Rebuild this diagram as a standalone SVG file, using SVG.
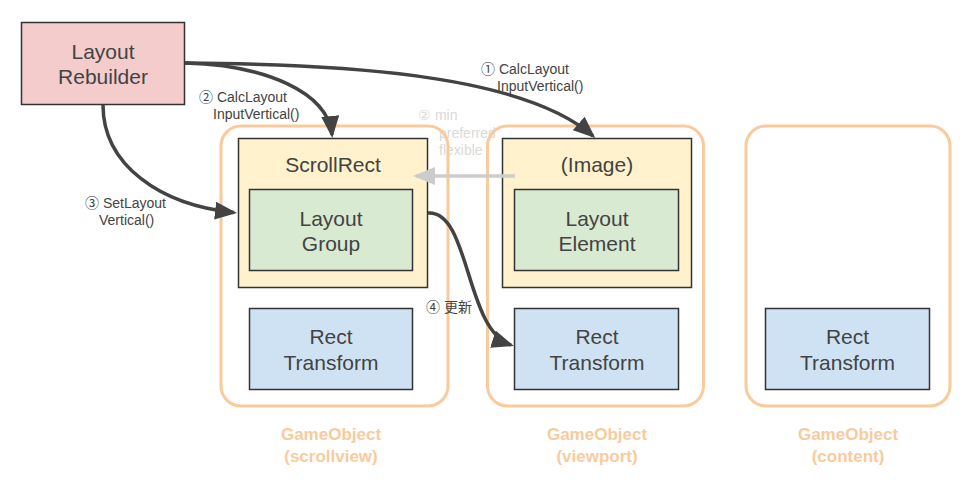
<svg xmlns="http://www.w3.org/2000/svg" width="976" height="490" viewBox="0 0 976 490">
<defs>
<style>
.box{stroke:#333333;stroke-width:1.5}
.cont{fill:none;stroke:#f9cb9c;stroke-width:3}
.t{font-family:"Liberation Sans",Arial,sans-serif;font-size:21px;fill:#434343;text-anchor:middle}
.lbl{font-family:"Liberation Sans",Arial,"Noto Sans CJK JP",sans-serif;font-size:14px;fill:#434343}
.go{font-family:"Liberation Sans",Arial,sans-serif;font-size:17px;font-weight:bold;fill:#f9cb9c;text-anchor:middle}
.hint{font-family:"Liberation Sans",Arial,sans-serif;font-size:14px;fill:#d9d9d9}
.c{fill:none;stroke:#434343;stroke-width:3.5}
.g{fill:none;stroke:#cccccc;stroke-width:3.5}
</style>
<marker id="ah" markerUnits="userSpaceOnUse" markerWidth="22" markerHeight="18" refX="19" refY="9" orient="auto" viewBox="0 0 22 18">
<path d="M0,0 L22,9 L0,18 z" fill="#434343"/>
</marker>
<marker id="ahg" markerUnits="userSpaceOnUse" markerWidth="22" markerHeight="18" refX="19" refY="9" orient="auto" viewBox="0 0 22 18">
<path d="M0,0 L22,9 L0,18 z" fill="#cccccc"/>
</marker>
</defs>
<rect width="976" height="490" fill="#ffffff"/>

<text class="hint" x="418" y="120">② min</text>
<text class="hint" x="439" y="137.5">preferred</text>
<text class="hint" x="439" y="155">flexible</text>

<g id="rebuilder">
<rect class="box" x="21.5" y="22.5" width="163" height="82" fill="#f4cccc" stroke="#222"/>
<text class="t" x="103" y="59">Layout</text>
<text class="t" x="103" y="84">Rebuilder</text>
</g>

<g id="scrollview">
<rect class="cont" x="221" y="126" width="227" height="280" rx="20"/>
<text class="go" x="331" y="440">GameObject</text>
<text class="go" x="331" y="462">(scrollview)</text>
</g>
<g id="scrollrect">
<rect class="box" x="238.5" y="138.5" width="189" height="149" fill="#fff2cc"/>
<text class="t" x="333" y="172">ScrollRect</text>
</g>
<g id="layoutgroup">
<rect class="box" x="249.5" y="189.5" width="163" height="81" fill="#d9ead3"/>
<text class="t" x="331" y="226">Layout</text>
<text class="t" x="331" y="251">Group</text>
</g>
<g id="recttransform-scrollview">
<rect class="box" x="249.5" y="308.5" width="163" height="81" fill="#cfe2f3"/>
<text class="t" x="331" y="344">Rect</text>
<text class="t" x="331" y="370">Transform</text>
</g>

<g id="viewport">
<rect class="cont" x="487.5" y="126" width="216" height="280" rx="20"/>
<text class="go" x="597" y="440">GameObject</text>
<text class="go" x="597" y="462">(viewport)</text>
</g>
<g id="image">
<rect class="box" x="502.5" y="138.5" width="189" height="149" fill="#fff2cc"/>
<text class="t" x="597" y="172">(Image)</text>
</g>
<g id="layoutelement">
<rect class="box" x="514.5" y="189.5" width="164" height="81" fill="#d9ead3"/>
<text class="t" x="597" y="226">Layout</text>
<text class="t" x="597" y="251">Element</text>
</g>
<g id="recttransform-viewport">
<rect class="box" x="514.5" y="308.5" width="164" height="81" fill="#cfe2f3"/>
<text class="t" x="597" y="344">Rect</text>
<text class="t" x="597" y="370">Transform</text>
</g>

<g id="content">
<rect class="cont" x="746" y="126" width="204" height="280" rx="20"/>
<text class="go" x="848" y="440">GameObject</text>
<text class="go" x="848" y="462">(content)</text>
</g>
<g id="recttransform-content">
<rect class="box" x="765.5" y="308.5" width="164" height="81" fill="#cfe2f3"/>
<text class="t" x="847.5" y="344">Rect</text>
<text class="t" x="847.5" y="370">Transform</text>
</g>

<g id="labels">
<text class="lbl" x="481" y="74">① CalcLayout</text>
<text class="lbl" x="497" y="91">InputVertical()</text>
<text class="lbl" x="199" y="102">② CalcLayout</text>
<text class="lbl" x="213" y="119">InputVertical()</text>
<text class="lbl" x="85" y="208">③ SetLayout</text>
<text class="lbl" x="99" y="225">Vertical()</text>
<text class="lbl" x="426" y="312">④ 更新</text>
</g>

<g id="connectors">
<path class="c" d="M185,63 C330,64 520,72 593,136" marker-end="url(#ah)"/>
<path class="c" d="M185,63 C265,65 328,92 332,135" marker-end="url(#ah)"/>
<path class="c" d="M103,105 C103,165 160,205 234,212.6" marker-end="url(#ah)"/>
<path class="c" d="M428,213 C470,210 465,330 511,345" marker-end="url(#ah)"/>
<path class="g" d="M515,176 L416,176" marker-end="url(#ahg)"/>
</g>
</svg>
